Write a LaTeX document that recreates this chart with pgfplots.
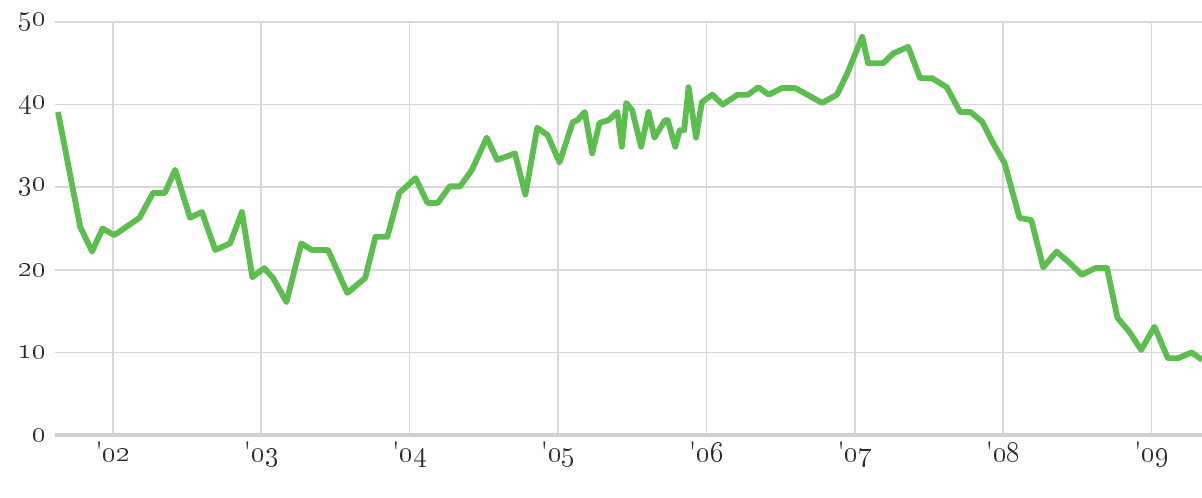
\documentclass[border=0pt]{standalone}
\usepackage{pgfplots}
\pgfplotsset{compat=1.18}
\definecolor{lineg}{RGB}{92,190,78}
\definecolor{gridg}{RGB}{216,216,216}
\definecolor{axisg}{RGB}{208,208,208}
\definecolor{txt}{RGB}{45,45,45}
\begin{document}
\begin{tikzpicture}
\begin{axis}[
  scale only axis,
  width=573.5pt, height=206.5pt,
  xmin=2001.61, xmax=2009.34,
  ymin=0, ymax=50,
  axis line style={draw=none},
  major tick length=0pt,
  xtick={2002,2003,2004,2005,2006,2007,2008,2009},
  xticklabels={\textquotesingle\oldstylenums{02},\textquotesingle\oldstylenums{03},\textquotesingle\oldstylenums{04},\textquotesingle\oldstylenums{05},\textquotesingle\oldstylenums{06},\textquotesingle\oldstylenums{07},\textquotesingle\oldstylenums{08},\textquotesingle\oldstylenums{09}},
  ytick={10,20,30,40,50},
  yticklabels={\oldstylenums{10},\oldstylenums{20},\oldstylenums{30},\oldstylenums{40},\oldstylenums{50}},
  extra y ticks={0},
  extra y tick labels={\oldstylenums{0}},
  extra y tick style={grid style={draw=axisg, line width=1.6pt}},
  grid=major,
  grid style={draw=gridg, line width=0.8pt},
  tick label style={font=\fontsize{14}{16}\selectfont, text=txt},
  xticklabel style={yshift=0pt},
  yticklabel style={xshift=-1pt},
  clip=true,
]
\addplot[lineg, line width=2.9pt, line join=round] coordinates {
(2001.63,39.1) (2001.78,25.2) (2001.86,22.2) (2001.93,25.0) (2002.01,24.2)
(2002.18,26.3) (2002.27,29.3) (2002.35,29.3) (2002.42,32.1) (2002.52,26.3)
(2002.60,27.0) (2002.69,22.4) (2002.79,23.2) (2002.87,27.0) (2002.94,19.1)
(2003.02,20.2) (2003.08,19.0) (2003.17,16.1) (2003.27,23.2) (2003.34,22.4)
(2003.45,22.4) (2003.58,17.2) (2003.70,19.0) (2003.77,24.0) (2003.85,24.0)
(2003.93,29.3) (2004.04,31.1) (2004.12,28.1) (2004.19,28.1) (2004.27,30.1)
(2004.34,30.1) (2004.42,32.1) (2004.52,36.0) (2004.59,33.3) (2004.71,34.1)
(2004.78,29.1) (2004.86,37.2) (2004.93,36.3) (2005.01,33.0) (2005.10,37.9)
(2005.13,38.1) (2005.18,39.1) (2005.23,34.1) (2005.28,37.8) (2005.34,38.1)
(2005.40,39.1) (2005.43,34.9) (2005.46,40.2) (2005.50,39.3) (2005.56,34.9)
(2005.61,39.1) (2005.65,36.0) (2005.72,38.1) (2005.74,38.1) (2005.79,34.9)
(2005.82,36.9) (2005.85,36.9) (2005.88,42.1) (2005.93,36.0) (2005.97,40.3)
(2006.04,41.2) (2006.11,40.0) (2006.21,41.2) (2006.28,41.2) (2006.35,42.1)
(2006.42,41.2) (2006.51,42.0) (2006.60,42.0) (2006.68,41.2) (2006.78,40.2)
(2006.88,41.2) (2006.95,43.8) (2007.05,48.2) (2007.09,45.0) (2007.19,45.0)
(2007.26,46.2) (2007.36,47.0) (2007.44,43.2) (2007.52,43.2) (2007.62,42.1)
(2007.71,39.1) (2007.78,39.1) (2007.86,37.9) (2007.93,35.4) (2008.01,32.9)
(2008.11,26.3) (2008.19,26.0) (2008.27,20.3) (2008.36,22.2) (2008.45,20.8)
(2008.53,19.4) (2008.62,20.2) (2008.70,20.2) (2008.77,14.2) (2008.85,12.5)
(2008.93,10.3) (2009.02,13.1) (2009.11,9.3) (2009.18,9.3) (2009.27,10.0)
(2009.34,9.1)
};
\path (rel axis cs:0,0) ++(-27.5pt,-31pt) coordinate (bbsw);
\path (rel axis cs:1,1) ++(0pt,11pt) coordinate (bbne);
\end{axis}
\pgfresetboundingbox
\path (bbsw) rectangle (bbne);
\end{tikzpicture}
\end{document}
